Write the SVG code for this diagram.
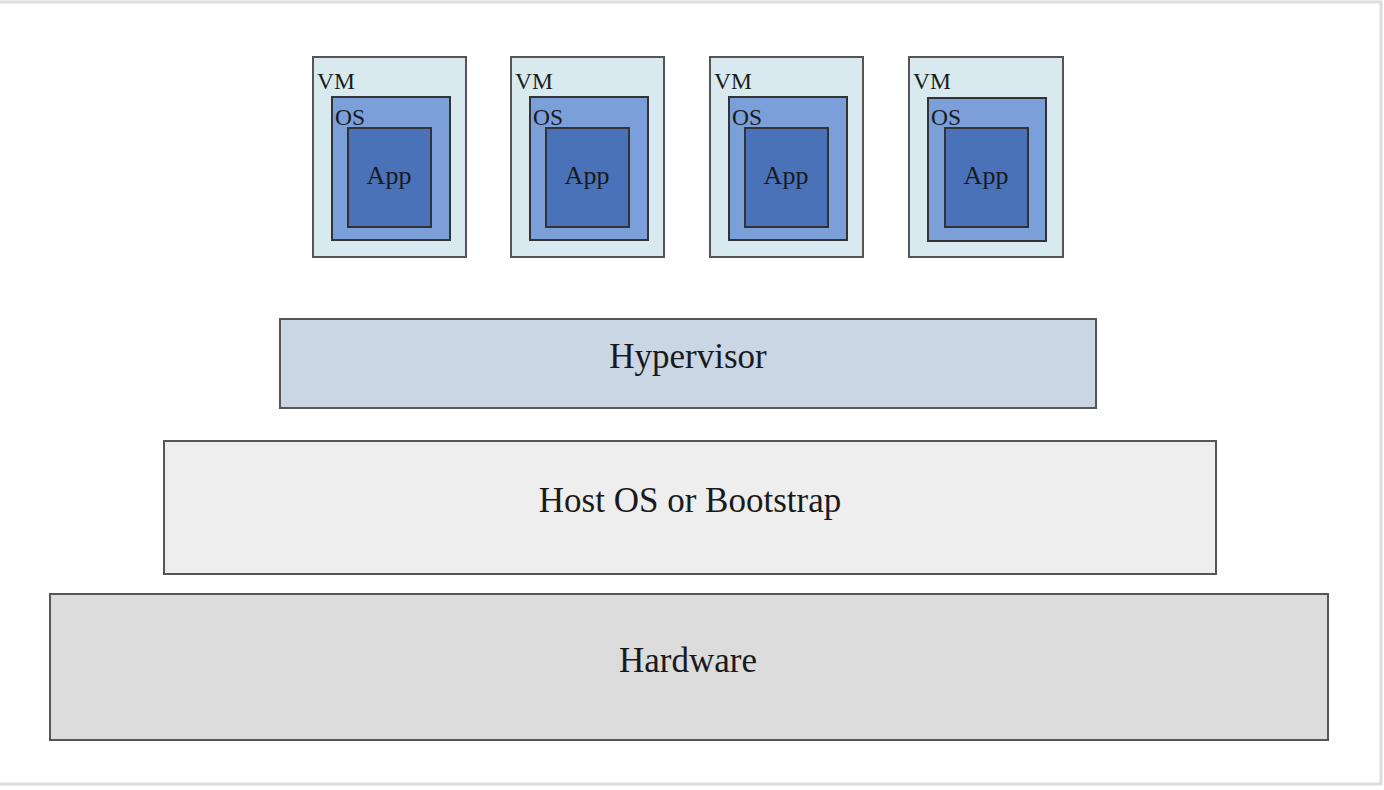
<svg xmlns="http://www.w3.org/2000/svg" width="1384" height="790" viewBox="0 0 1384 790">
<style>
.frame{fill:#ffffff;stroke:#dcdcdc;stroke-width:3}
.vm{fill:#d8eaef;stroke:#555;stroke-width:2}
.os{fill:#7b9fd9;stroke:#333;stroke-width:2}
.app{fill:#4a72b8;stroke:#333;stroke-width:2}
.layer{stroke:#555;stroke-width:2}
text{font-family:"Liberation Serif",serif;fill:#1a1a1a}
.sm{font-size:23.5px}
.app-t{font-size:26px;text-anchor:middle}
.big{font-size:35px;text-anchor:middle}
</style>
<rect class="frame" x="-2" y="2" width="1383" height="782"/>
<g id="vm1">
<rect class="vm" x="313" y="57" width="153" height="200"/>
<text class="sm" x="317" y="89">VM</text>
<rect class="os" x="332" y="97" width="118" height="143"/>
<text class="sm" x="335" y="125">OS</text>
<rect class="app" x="348" y="128" width="83" height="99"/>
<text class="app-t" x="389" y="184">App</text>
</g>
<g id="vm2">
<rect class="vm" x="511" y="57" width="153" height="200"/>
<text class="sm" x="515" y="89">VM</text>
<rect class="os" x="530" y="97" width="118" height="143"/>
<text class="sm" x="533" y="125">OS</text>
<rect class="app" x="546" y="128" width="83" height="99"/>
<text class="app-t" x="587" y="184">App</text>
</g>
<g id="vm3">
<rect class="vm" x="710" y="57" width="153" height="200"/>
<text class="sm" x="714" y="89">VM</text>
<rect class="os" x="729" y="97" width="118" height="143"/>
<text class="sm" x="732" y="125">OS</text>
<rect class="app" x="745" y="128" width="83" height="99"/>
<text class="app-t" x="786" y="184">App</text>
</g>
<g id="vm4">
<rect class="vm" x="909" y="57" width="154" height="200"/>
<text class="sm" x="913" y="89">VM</text>
<rect class="os" x="928" y="98" width="118" height="143"/>
<text class="sm" x="931" y="125">OS</text>
<rect class="app" x="945" y="128" width="83" height="99"/>
<text class="app-t" x="986" y="184">App</text>
</g>
<g id="hypervisor">
<rect class="layer" x="280" y="319" width="816" height="89" fill="#cbd6e5"/>
<text class="big" x="688" y="368">Hypervisor</text>
</g>
<g id="hostos">
<rect class="layer" x="164" y="441" width="1052" height="133" fill="#eeeeee"/>
<text class="big" x="690" y="512">Host OS or Bootstrap</text>
</g>
<g id="hardware">
<rect class="layer" x="50" y="594" width="1278" height="146" fill="#dcdcdc"/>
<text class="big" x="688" y="672">Hardware</text>
</g>
<g id="connectors"/>
</svg>
